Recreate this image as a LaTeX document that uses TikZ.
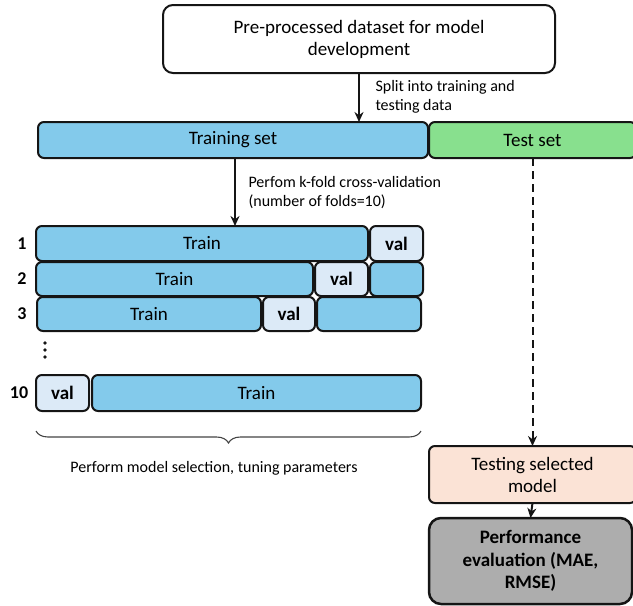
\documentclass[tikz,border=0pt]{standalone}
\usepackage{fontspec}
\setmainfont{Carlito}
\usetikzlibrary{arrows.meta,decorations.pathreplacing}
\definecolor{bleu}{HTML}{83CAEB}
\definecolor{bleuclair}{HTML}{DCEAF7}
\definecolor{vert}{HTML}{88E08E}
\definecolor{peche}{HTML}{FBE3D6}
\definecolor{gris}{HTML}{ADADAD}
\definecolor{trait}{HTML}{151515}

\begin{document}
\begin{tikzpicture}[x=1pt, y=-1pt,
  boite/.style={draw=trait, line width=2pt, rounded corners=6pt, inner sep=0pt, outer sep=0pt,
    align=center, font=\fontsize{19}{22}\selectfont},
  train/.style={boite, fill=bleu},
  val/.style={boite, fill=bleuclair, font=\fontsize{19}{22}\selectfont\bfseries},
  legende/.style={anchor=west, align=left, font=\fontsize{16}{19}\selectfont},
  numero/.style={font=\fontsize{18}{20}\selectfont\bfseries},
  fleche/.style={draw=trait, line width=2pt, -{Stealth[length=10pt,width=9pt]}}]
\useasboundingbox (0,0) rectangle (633,606);
% Boites du haut
\node[boite, rounded corners=10pt, minimum width=392pt, minimum height=68pt] (data) at (359, 39) {Pre-processed dataset for model\\development};
\node[train, minimum width=390pt, minimum height=36pt] (trainset) at (233, 140) {Training set};
\node[boite, fill=vert, minimum width=207pt, minimum height=36pt] (testset) at (532.5, 140) {Test set};
\draw[fleche] (data.south) -- (data.south |- trainset.north);
\node[legende] (split) at (372, 96.5) {Split into training and\\testing data};
% Validation croisee
\node[train, minimum width=332pt, minimum height=35pt] (r1train) at (202, 243.5) {Train};
\node[val, minimum width=53pt, minimum height=35pt] (r1val) at (396.5, 243.5) {val};
\node[train, minimum width=277pt, minimum height=34pt] (r2train) at (174.5, 279) {Train};
\node[val, minimum width=53pt, minimum height=34pt] (r2val) at (341.5, 279) {val};
\node[train, minimum width=53pt, minimum height=34pt] (r2reste) at (396.5, 279) {};
\node[train, minimum width=224pt, minimum height=34pt] (r3train) at (149, 314) {Train};
\node[val, minimum width=52pt, minimum height=34pt] (r3val) at (289, 314) {val};
\node[train, minimum width=104pt, minimum height=34pt] (r3reste) at (369, 314) {};
\node[val, minimum width=53pt, minimum height=36pt] (r10val) at (62.5, 393) {val};
\node[train, minimum width=329pt, minimum height=36pt] (r10train) at (256.5, 393) {Train};
\node[numero] (n1) at (22, 243.5) {1};
\node[numero] (n2) at (22, 279) {2};
\node[numero] (n3) at (22, 314) {3};
\node[numero] (n10) at (19, 393) {10};
\fill[trait] (45, 343) circle (1.8pt);
\fill[trait] (45, 350) circle (1.8pt);
\fill[trait] (45, 357) circle (1.8pt);
\coordinate (kfold) at (235, 158);
\draw[fleche] (kfold) -- (kfold |- r1train.north);
\node[legende] (cv) at (245, 192.5) {Perfom k-fold cross-validation\\(number of folds=10)};
\draw[trait!80, line width=1.1pt, decorate, decoration={brace, mirror, amplitude=12pt}]
  ([yshift=-20pt]r10val.south west) -- ([yshift=-20pt]r10train.south east);
\node[font=\fontsize{16}{19}\selectfont] (selection) at (214, 468) {Perform model selection, tuning parameters};
% Test
\node[boite, fill=peche, minimum width=207pt, minimum height=57pt] (testing) at (532.5, 474.5) {Testing selected\\model};
\node[boite, fill=gris, line width=2.5pt, rounded corners=12pt, minimum width=203pt, minimum height=86pt,
  font=\fontsize{19}{22.5}\selectfont\bfseries] (perf) at (530.5, 561) {Performance\\evaluation (MAE,\\RMSE)};
\draw[fleche, dash pattern=on 8pt off 5pt] (testset.south) -- (testing.north);
\draw[fleche] (testing.south) -- (perf.north);
\end{tikzpicture}
\end{document}
